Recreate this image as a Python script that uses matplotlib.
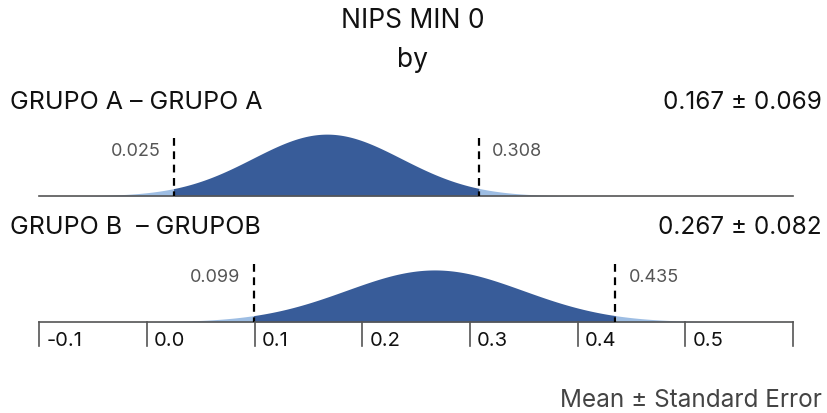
import numpy as np
import matplotlib.pyplot as plt

plt.rcParams['font.family'] = ['Inter', 'DejaVu Sans']

# data
groups = ['GRUPO A \u2013 GRUPO A', 'GRUPO B  \u2013 GRUPOB']
means = [0.167, 0.267]
ses = [0.069, 0.082]
lows = [0.025, 0.099]
highs = [0.308, 0.435]
ticks = [-0.1, 0.0, 0.1, 0.2, 0.3, 0.4, 0.5, 0.6]
tick_labels = ['-0.1', '0.0', '0.1', '0.2', '0.3', '0.4', '0.5', '']

dark = '#385c99'
light = '#9dbde3'

fig = plt.figure(figsize=(8.27, 4.14), dpi=100)
ax = fig.add_axes([0, 0, 1, 1])
ax.set_xlim(-0.1365, 0.6314)
ax.set_ylim(414, 0)
ax.axis('off')

baselines = [197, 323]
label_y = [103, 228]
scale = 10.7  # px per density unit

x = np.linspace(-0.1, 0.6, 800)
for i in range(2):
    b = baselines[i]
    pdf = np.exp(-0.5 * ((x - means[i]) / ses[i]) ** 2) / (ses[i] * np.sqrt(2 * np.pi))
    y = b - scale * pdf
    inside = (x >= lows[i]) & (x <= highs[i])
    ax.fill_between(x, y, b, where=x <= lows[i], color=light, lw=0, interpolate=True)
    ax.fill_between(x, y, b, where=x >= highs[i], color=light, lw=0, interpolate=True)
    ax.fill_between(x, y, b, where=inside, color=dark, lw=0, interpolate=True)
    ax.plot([-0.1, 0.6], [b, b], color='#555555', lw=1.2)
    top = b - 58
    for v, ha, off in [(lows[i], 'right', -0.012), (highs[i], 'left', 0.012)]:
        ax.plot([v, v], [top, b], color='black', lw=1.6, ls=(0, (3.5, 2.5)))
        ax.text(v + off, top + 13, f'{v:.3f}', ha=ha, va='center',
                fontsize=13, color='#555555')
    ax.text(-0.127, label_y[i], groups[i], ha='left', va='center', fontsize=18, color='#111111')
    ax.text(0.6265, label_y[i], f'{means[i]:.3f} \u00b1 {ses[i]:.3f}', ha='right',
            va='center', fontsize=17.5, color='#111111')

for t, lab in zip(ticks, tick_labels):
    ax.plot([t, t], [baselines[1], 347], color='#555555', lw=1.2)
    ax.text(t + 0.0065, 341, lab, ha='left', va='center', fontsize=14.5, color='#111111')

ax.text(0.2465, 21, 'NIPS MIN 0', ha='center', va='center', fontsize=19, color='#111111')
ax.text(0.2465, 60, 'by', ha='center', va='center', fontsize=19, color='#111111')
ax.text(0.6265, 401, 'Mean \u00b1 Standard Error', ha='right', va='center',
        fontsize=17.5, color='#444444')

fig.savefig('out.png', dpi=100)
